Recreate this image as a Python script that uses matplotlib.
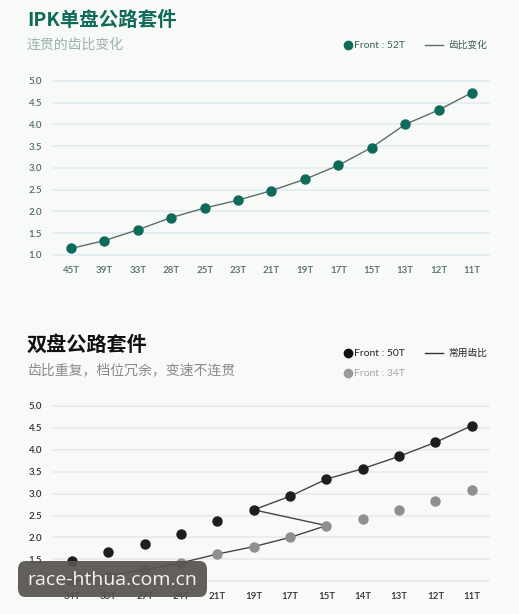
import matplotlib
matplotlib.use("Agg")
import matplotlib.pyplot as plt
from matplotlib.patches import FancyBboxPatch
from matplotlib.lines import Line2D

W, H = 519, 614
CJK = ['Noto Sans CJK SC', 'DejaVu Sans']
LAT = ['Lato', 'DejaVu Sans']

# ---- data ----
top_labels = ['45T', '39T', '33T', '28T', '25T', '23T', '21T', '19T', '17T', '15T', '13T', '12T', '11T']
top_values = [1.15, 1.33, 1.58, 1.86, 2.08, 2.26, 2.48, 2.74, 3.06, 3.47, 4.00, 4.33, 4.73]

bot_labels = ['34T', '30T', '27T', '24T', '21T', '19T', '17T', '15T', '14T', '13T', '12T', '11T']
big_values = [1.47, 1.67, 1.85, 2.08, 2.38, 2.63, 2.94, 3.33, 3.57, 3.85, 4.17, 4.55]
small_values = [1.00, 1.13, 1.26, 1.42, 1.62, 1.79, 2.00, 2.27, 2.43, 2.62, 2.83, 3.09]
yticks = [1.0, 1.5, 2.0, 2.5, 3.0, 3.5, 4.0, 4.5, 5.0]

BG = '#f8faf8'
TEAL = '#0e6b5c'

fig = plt.figure(figsize=(W / 100, H / 100), dpi=100, facecolor=BG)


def px_axes(l, t, r, b):
    return fig.add_axes([l / W, 1 - b / H, (r - l) / W, (b - t) / H])


def ftext(x, y, s, **kw):
    fig.text(x / W, 1 - y / H, s, **kw)


def style(ax, labels, grid_color, tick_color, xlim):
    ax.set_facecolor(BG)
    for sp in ax.spines.values():
        sp.set_visible(False)
    ax.set_xlim(*xlim)
    ax.set_ylim(0.85, 5.1)
    ax.set_yticks(yticks)
    ax.set_yticklabels([f'{v:.1f}' for v in yticks])
    ax.set_xticks(range(len(labels)))
    ax.set_xticklabels(labels)
    ax.tick_params(length=0, labelsize=7, colors=tick_color)
    ax.tick_params(axis='y', pad=7)
    ax.tick_params(axis='x', pad=3)
    for lab in ax.get_xticklabels() + ax.get_yticklabels():
        lab.set_family(LAT)
        lab.set_fontweight('semibold')
    ax.grid(axis='y', color=grid_color, lw=1.3)
    ax.set_axisbelow(True)


# ---- top chart ----
ax1 = px_axes(52, 76.6, 490.3, 261.5)
style(ax1, top_labels, '#e4eef3', '#4f6a64', (-0.57, 12.55))
x1 = list(range(len(top_labels)))
ax1.plot(x1, top_values, color='#5b6d69', lw=1.0, zorder=2)
ax1.plot(x1, top_values, 'o', color=TEAL, ms=6.5, zorder=3, clip_on=False)

ftext(27, 20, 'IPK单盘公路套件', family=CJK, fontsize=14, fontweight='bold',
      color='#0f6a5a', va='center')
ftext(27, 45, '连贯的齿比变化', family=CJK, fontsize=10, color='#9db1ac', va='center')
fig.add_artist(Line2D([348 / W], [1 - 45 / H], marker='o', ms=6, color=TEAL, lw=0))
ftext(354, 45, 'Front : 52T', family=LAT, fontsize=7.5, color='#3d5c56', va='center')
fig.add_artist(Line2D([425 / W, 443 / W], [1 - 45 / H] * 2, color='#5b6d69', lw=1.0))
ftext(448, 45, '齿比变化', family=CJK, fontsize=7, color='#3d5c56', va='center')

# ---- bottom chart ----
ax2 = px_axes(52, 401.6, 490, 587.8)
style(ax2, bot_labels, '#ebebea', '#2e2e2e', (-0.55, 11.5))
x2 = list(range(len(bot_labels)))
# common gear path: small ring up to 15T, then big ring from 19T
k15 = bot_labels.index('15T')
k19 = bot_labels.index('19T')
path_x = x2[:k15 + 1] + [x2[k19]] + x2[k19 + 1:]
path_y = small_values[:k15 + 1] + [big_values[k19]] + big_values[k19 + 1:]
ax2.plot(path_x, path_y, color='#454545', lw=1.0, zorder=2)
ax2.plot(x2, small_values, 'o', color='#8f8f8f', ms=6.5, zorder=3, clip_on=False)
ax2.plot(x2, big_values, 'o', color='#1e1e1e', ms=6.5, zorder=4, clip_on=False)

ftext(27, 344, '双盘公路套件', family=CJK, fontsize=14.5, fontweight='bold',
      color='#111111', va='center')
ftext(27, 370, '齿比重复，档位冗余，变速不连贯', family=CJK, fontsize=10,
      color='#8a8a8a', va='center')
fig.add_artist(Line2D([348 / W], [1 - 353 / H], marker='o', ms=6, color='#111111', lw=0))
ftext(354, 353, 'Front : 50T', family=LAT, fontsize=7.5, color='#222222', va='center')
fig.add_artist(Line2D([348 / W], [1 - 373 / H], marker='o', ms=6, color='#9a9a9a', lw=0))
ftext(354, 373, 'Front : 34T', family=LAT, fontsize=7.5, color='#a5a5a5', va='center')
fig.add_artist(Line2D([425 / W, 443 / W], [1 - 353 / H] * 2, color='#333333', lw=1.0))
ftext(448, 353, '常用齿比', family=CJK, fontsize=7, color='#222222', va='center')

# ---- watermark ----
box = FancyBboxPatch((18 / W, 1 - 597 / H), 189 / W, 36 / H,
                     boxstyle='round,pad=0,rounding_size=0.014',
                     transform=fig.transFigure, facecolor='#58534e', edgecolor='none',
                     alpha=0.93, zorder=10)
fig.add_artist(box)
ftext(112, 580, 'race-hthua.com.cn', family=['Open Sans', 'DejaVu Sans'], fontsize=14,
      color='#f4f4f0', ha='center', va='center', zorder=11)

fig.savefig('out.png', dpi=100, facecolor=BG)
